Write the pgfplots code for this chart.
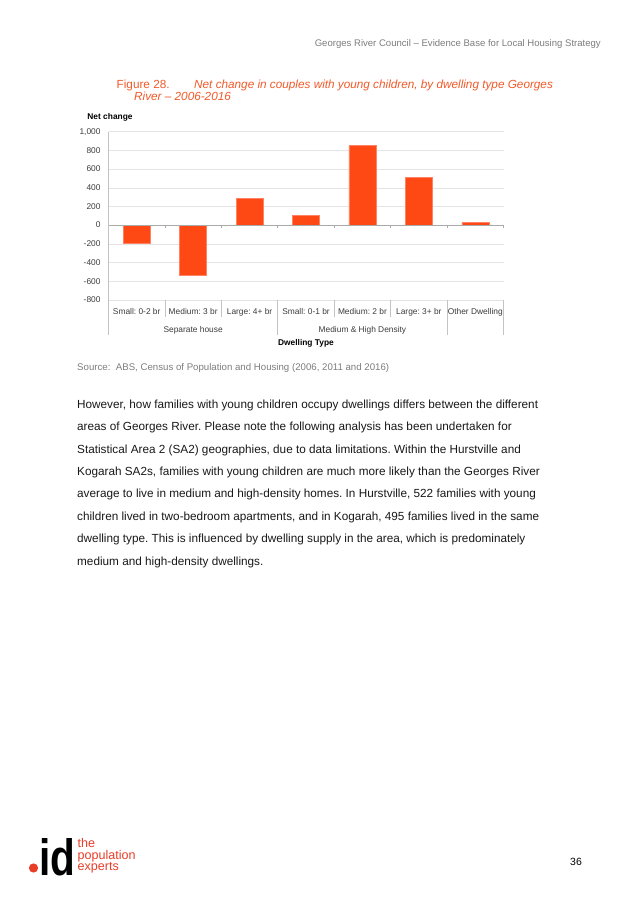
\documentclass[border=0pt]{standalone}
\usepackage{fontspec}
\setmainfont{Liberation Sans}
\usepackage{graphicx}
\usepackage{pgfplots}
\pgfplotsset{compat=1.18}
\definecolor{barred}{RGB}{255,73,20}
\definecolor{baredge}{RGB}{255,130,100}
\definecolor{titlered}{RGB}{241,90,41}
\definecolor{logored}{RGB}{232,62,40}
\definecolor{hdrgray}{RGB}{125,125,125}
\definecolor{gridgray}{RGB}{228,228,228}
\definecolor{axisgray}{RGB}{195,195,195}
\definecolor{zerogray}{RGB}{170,170,170}
\definecolor{ticktext}{RGB}{60,60,60}
\definecolor{bodytext}{RGB}{25,25,25}
\newcommand{\chartfont}{\fontsize{8.4}{10}\selectfont}
\newcommand{\bodyfont}{\fontsize{11.8}{14}\selectfont}
\frenchspacing
\begin{document}
\begin{tikzpicture}[x=1bp,y=1bp]
\path[use as bounding box, fill=white] (0,0) rectangle (637,901);
% page header
\node[anchor=mid east, inner sep=0, text=hdrgray, font=\fontsize{9.6}{11}\selectfont] at (601,857) {Georges River Council – Evidence Base for Local Housing Strategy};
% figure title
\begin{scope}[every node/.style={anchor=mid west, inner sep=0, text=titlered, font=\fontsize{11.8}{13}\selectfont}]
\node at (116.5,815.3) {Figure 28.};
\node at (194,815.3) {\itshape Net change in couples with young children, by dwelling type Georges};
\node at (134,802.7) {\itshape River – 2006-2016};
\end{scope}
\begin{axis}[
    at={(108.5bp,600.8bp)}, anchor=south west,
    scale only axis, width=395bp, height=168.5bp,
    xmin=-0.5, xmax=6.5, ymin=-800, ymax=1000,
    ybar, bar width=27bp,
    axis line style={draw=none},
    major tick length=0,
    ytick={-800,-600,...,1000},
    yticklabels={-800,-600,-400,-200,0,200,400,600,800,{1,000}},
    ymajorgrids, grid style={gridgray, line width=0.6bp},
    xtick={0,...,6},
    xticklabels={Small: 0-2 br, Medium: 3 br, Large: 4+ br, Small: 0-1 br, Medium: 2 br, Large: 3+ br, Other Dwelling},
    tick label style={font=\chartfont, text=ticktext},
    yticklabel style={anchor=mid east, xshift=-4.5bp},
    xticklabel style={anchor=mid, yshift=-12bp},
    xlabel={Dwelling Type},
    xlabel style={at={(axis description cs:0.5,0)}, anchor=mid, yshift=-42.5bp, font=\chartfont\bfseries, text=black},
    ylabel={Net change},
    ylabel style={rotate=-90, at={(axis description cs:0,1)}, anchor=mid, xshift=1.5bp, yshift=15bp, font=\chartfont\bfseries, text=black},
    clip=false,
]
\addplot[fill=barred, draw=baredge, line width=0.4bp] coordinates {
    (0,-190) (1,-530) (2,285) (3,105) (4,855) (5,512) (6,30)
};
% zero line with small ticks
\draw[zerogray, line width=0.7bp] (axis cs:-0.5,0) -- (axis cs:6.5,0);
\pgfplotsinvokeforeach{0.5,1.5,2.5,3.5,4.5,5.5,6.5}{
    \draw[zerogray, line width=0.6bp] (axis cs:#1,0) -- ([yshift=-3bp]axis cs:#1,0);
}
% category table separators
\pgfplotsinvokeforeach{0.5,1.5,3.5,4.5}{
    \draw[axisgray, line width=0.6bp] (axis cs:#1,-800) -- ([yshift=-17bp]axis cs:#1,-800);
}
\pgfplotsinvokeforeach{2.5,5.5,6.5}{
    \draw[axisgray, line width=0.6bp] (axis cs:#1,-800) -- ([yshift=-35bp]axis cs:#1,-800);
}
\draw[axisgray, line width=1.5bp] (axis cs:-0.5,1000) -- ([yshift=-35bp]axis cs:-0.5,-800);
\node[anchor=mid, font=\chartfont, text=ticktext] at ([yshift=-29.8bp]axis cs:1,-800) {Separate house};
\node[anchor=mid, font=\chartfont, text=ticktext] at ([yshift=-29.8bp]axis cs:4,-800) {Medium \& High Density};
\end{axis}
% source
\node[anchor=mid west, inner sep=0, text=hdrgray, font=\fontsize{9.7}{11}\selectfont] at (77,533) {Source:\ \ ABS, Census of Population and Housing (2006, 2011 and 2016)};
% body text
\begin{scope}[every node/.style={anchor=mid west, inner sep=0, text=bodytext, font=\bodyfont}]
\node at (77,495.3) {However, how families with young children occupy dwellings differs between the different};
\node at (77,472.9) {areas of Georges River. Please note the following analysis has been undertaken for};
\node at (77,450.5) {Statistical Area 2 (SA2) geographies, due to data limitations. Within the Hurstville and};
\node at (77,428.1) {Kogarah SA2s, families with young children are much more likely than the Georges River};
\node at (77,405.7) {average to live in medium and high-density homes. In Hurstville, 522 families with young};
\node at (77,383.3) {children lived in two-bedroom apartments, and in Kogarah, 495 families lived in the same};
\node at (77,360.9) {dwelling type. This is influenced by dwelling supply in the area, which is predominately};
\node at (77,338.5) {medium and high-density dwellings.};
\end{scope}
% logo
\fill[logored] (33.5,33) circle (4.6);
\node[anchor=base west, inner sep=0] at (39,26) {\resizebox{36bp}{37bp}{\bfseries id}};
\begin{scope}[every node/.style={anchor=mid west, inner sep=0, text=logored, font=\fontsize{12.6}{13}\selectfont}]
\node at (77.5,56) {the};
\node at (77.5,44.5) {population};
\node at (77.5,33) {experts};
\end{scope}
% page number
\node[anchor=mid, inner sep=0, font=\fontsize{10.5}{12}\selectfont] at (576,38) {36};
\end{tikzpicture}
\end{document}
